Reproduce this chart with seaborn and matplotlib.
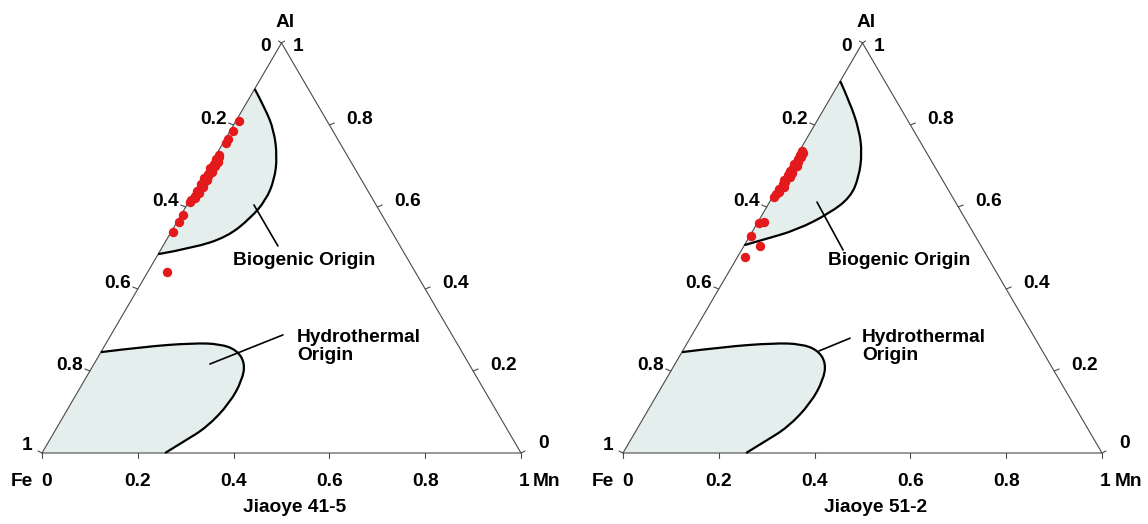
import numpy as np
import matplotlib
matplotlib.use("Agg")
import matplotlib.pyplot as plt
from matplotlib.path import Path
from matplotlib.patches import PathPatch
import matplotlib.transforms as mtrans
import seaborn as sns

# ---------------- data (ternary fractions: Mn, Al; Fe = remainder) ----------------
titles = ["Jiaoye 41-5", "Jiaoye 51-2"]
tick_values = [0.2, 0.4, 0.6, 0.8]
tick_labels = ["0.2", "0.4", "0.6", "0.8"]

# Jiaoye 41-5 samples
left_al = [0.810, 0.786, 0.765, 0.755, 0.727, 0.721, 0.716, 0.710, 0.705, 0.700,
           0.695, 0.690, 0.685, 0.680, 0.675, 0.670, 0.665, 0.660, 0.655, 0.650,
           0.645, 0.640, 0.634, 0.628, 0.622, 0.616, 0.612, 0.580, 0.564, 0.540, 0.441]
left_mn = [0.006, 0.006, 0.006, 0.007, 0.006, 0.010, 0.005, 0.012, 0.007, 0.011,
           0.004, 0.009, 0.013, 0.006, 0.010, 0.004, 0.012, 0.008, 0.005, 0.011,
           0.007, 0.004, 0.010, 0.006, 0.009, 0.004, 0.003, 0.004, 0.004, 0.004, 0.041]

# Jiaoye 51-2 samples
right_al = [0.737, 0.732, 0.727, 0.721, 0.716, 0.710, 0.705, 0.699, 0.694, 0.688,
            0.683, 0.677, 0.672, 0.666, 0.660, 0.655, 0.649, 0.643, 0.637, 0.631,
            0.625, 0.564, 0.560, 0.529, 0.505, 0.477]
right_mn = [0.006, 0.010, 0.005, 0.012, 0.007, 0.010, 0.004, 0.013, 0.008, 0.005,
            0.011, 0.007, 0.012, 0.004, 0.009, 0.006, 0.011, 0.005, 0.008, 0.004,
            0.003, 0.012, 0.003, 0.003, 0.034, 0.016]

# Biogenic field outlines
bio_left_mn = [0.000, 0.045, 0.090, 0.130, 0.152, 0.159, 0.149, 0.123, 0.065, 0.000]
bio_left_al = [0.888, 0.841, 0.788, 0.722, 0.666, 0.617, 0.573, 0.527, 0.500, 0.485]
bio_right_mn = [0.000, 0.047, 0.099, 0.133, 0.156, 0.163, 0.139, 0.091, 0.032, 0.000]
bio_right_al = [0.907, 0.854, 0.788, 0.732, 0.673, 0.624, 0.585, 0.544, 0.520, 0.507]

# Hydrothermal field outline
hyd_mn = [0.000, 0.082, 0.181, 0.239, 0.281, 0.314, 0.329, 0.331, 0.313, 0.281, 0.257]
hyd_al = [0.246, 0.259, 0.268, 0.266, 0.251, 0.2195, 0.178, 0.122, 0.063, 0.027, 0.000]

# label leader lines (Mn, Al endpoints)
bio_leader_left = ([0.140, 0.240], [0.605, 0.505])
hyd_leader_left = ([0.242, 0.359], [0.217, 0.288])
bio_leader_right = ([0.099, 0.212], [0.612, 0.495])
hyd_leader_right = ([0.285, 0.334], [0.249, 0.280])

# ---------------- style ----------------
sns.set_theme(style="white")
plt.rcParams["font.family"] = ["Liberation Sans", "DejaVu Sans"]
plt.rcParams["font.weight"] = "bold"
plt.rcParams["text.color"] = "black"
FS = 13.8
RED = "#e3191c"
FILL = "#e4efed"
EDGE = "#4a4a4a"

H = np.sqrt(3) / 2
PX = 479.0          # pixels per unit x
PY = 410.0 / H      # pixels per unit y


def cart(mn, al):
    mn = np.asarray(mn, float)
    al = np.asarray(al, float)
    return mn + al / 2, al * H


def smooth(xs, ys):
    pts = list(zip(xs, ys))
    n = len(pts)
    verts = [pts[0]]
    codes = [Path.MOVETO]
    for i in range(1, n - 1):
        c = pts[i]
        if i < n - 2:
            e = ((pts[i][0] + pts[i + 1][0]) / 2, (pts[i][1] + pts[i + 1][1]) / 2)
        else:
            e = pts[n - 1]
        verts += [c, e]
        codes += [Path.CURVE3, Path.CURVE3]
    return verts, codes


fig = plt.figure(figsize=(11.48, 5.24), dpi=100)

panels = [
    dict(pos=[0, 0, 0.5, 1], x0=42, title=titles[0], mn=left_mn, al=left_al,
         bmn=bio_left_mn, bal=bio_left_al, bl=bio_leader_left, hl=hyd_leader_left,
         bio_txt=(233 - 42, 260), hyd_txt=(297 - 42, 337), title_off=13),
    dict(pos=[0.5, 0, 0.5, 1], x0=49, title=titles[1], mn=right_mn, al=right_al,
         bmn=bio_right_mn, bal=bio_right_al, bl=bio_leader_right, hl=hyd_leader_right,
         bio_txt=(828 - 623, 260), hyd_txt=(862 - 623, 337), title_off=13),
]


def pix(dx, yp):
    """pixel offset from Fe corner (x) and absolute image y -> cartesian"""
    return dx / PX, (453 - yp) / PY


for p in panels:
    ax = fig.add_axes(p["pos"])
    ax.set_xlim(-p["x0"] / PX, (574 - p["x0"]) / PX)
    ax.set_ylim(-71 / PY, (524 - 71) / PY)
    ax.axis("off")

    # triangle frame
    tx, ty = cart([0, 1, 0, 0], [0, 0, 1, 0])
    ax.plot(tx, ty, color=EDGE, lw=0.8, zorder=3)

    # biogenic field
    bx, by = cart(p["bmn"], p["bal"])
    v, c = smooth(bx, by)
    ax.add_patch(PathPatch(Path(v + [v[0]], c + [Path.CLOSEPOLY]),
                           facecolor=FILL, edgecolor="none", zorder=1))
    ax.add_patch(PathPatch(Path(v, c), facecolor="none", edgecolor="black",
                           lw=1.6, zorder=4))

    # hydrothermal field
    hx, hy = cart(hyd_mn, hyd_al)
    v, c = smooth(hx, hy)
    ax.add_patch(PathPatch(Path(v + [(0, 0), v[0]], c + [Path.LINETO, Path.CLOSEPOLY]),
                           facecolor=FILL, edgecolor="none", zorder=1))
    ax.add_patch(PathPatch(Path(v, c), facecolor="none", edgecolor="black",
                           lw=1.6, zorder=4))

    # leader lines
    for mn, al in (p["bl"], p["hl"]):
        lx, ly = cart(mn, al)
        ax.plot(lx, ly, color="black", lw=1.2, zorder=4)

    # sample points
    sx, sy = cart(p["mn"], p["al"])
    sns.scatterplot(x=sx, y=sy, ax=ax, color=RED, s=46, linewidth=0, zorder=6,
                    legend=False)

    # ticks and tick labels
    tl = 5
    for v_, lab in zip(tick_values, tick_labels):
        # bottom (Mn)
        bxp, byp = cart(v_, 0)
        ax.plot([bxp, bxp], [byp, byp - tl / PY], color=EDGE, lw=0.8)
        ax.annotate(lab, (bxp, byp), xytext=(0, -28), textcoords="offset pixels",
                    ha="center", va="center", fontsize=FS, fontweight="bold")
        # left (Fe)
        lxp, lyp = cart(0, 1 - v_)
        ax.plot([lxp, lxp - tl / PX], [lyp, lyp + 2 / PY], color=EDGE, lw=0.8)
        ax.annotate(lab, (lxp, lyp), xytext=(-7, 6), textcoords="offset pixels",
                    ha="right", va="center", fontsize=FS, fontweight="bold")
        # right (Al)
        rxp, ryp = cart(1 - v_, v_)
        ax.plot([rxp, rxp + tl / PX], [ryp, ryp + 2 / PY], color=EDGE, lw=0.8)
        ax.annotate(lab, (rxp, ryp), xytext=(17, 6), textcoords="offset pixels",
                    ha="left", va="center", fontsize=FS, fontweight="bold")

    # corner ticks
    ax.plot([0, 0], [0, -tl / PY], color=EDGE, lw=0.8)
    ax.plot([0, -4 / PX], [0, 2 / PY], color=EDGE, lw=0.8)
    ax.plot([1, 1], [0, -tl / PY], color=EDGE, lw=0.8)
    ax.plot([1, 1 + 4 / PX], [0, 2 / PY], color=EDGE, lw=0.8)
    ax.plot([0.5, 0.5 - 3 / PX], [H, H + 2 / PY], color=EDGE, lw=0.8)
    ax.plot([0.5, 0.5 + 3 / PX], [H, H + 2 / PY], color=EDGE, lw=0.8)

    # corner labels
    kw = dict(textcoords="offset pixels", fontsize=FS, fontweight="bold", va="center")
    ax.annotate("0", (0, 0), xytext=(5, -28), ha="center", **kw)
    ax.annotate("Fe", (0, 0), xytext=(-20, -28), ha="center", **kw)
    ax.annotate("1", (0, 0), xytext=(-10, 8), ha="right", **kw)
    ax.annotate("1", (1, 0), xytext=(3, -28), ha="center", **kw)
    ax.annotate("Mn", (1, 0), xytext=(26, -28), ha="center", **kw)
    ax.annotate("0", (1, 0), xytext=(17, 10), ha="left", **kw)
    ax.annotate("0", (0.5, H), xytext=(-16, -3), ha="center", **kw)
    ax.annotate("1", (0.5, H), xytext=(17, -3), ha="center", **kw)
    ax.annotate("Al", (0.5, H), xytext=(4, 21), ha="center", **kw)

    # field labels
    bxt, byt = pix(*p["bio_txt"])
    ax.text(bxt, byt, "Biogenic Origin", ha="left", va="center", fontsize=FS,
            fontweight="bold")
    hxt, hyt = pix(*p["hyd_txt"])
    ax.text(hxt, hyt, "Hydrothermal\nOrigin", ha="left", va="top", fontsize=FS,
            fontweight="bold", linespacing=1.05,
            transform=ax.transData + mtrans.ScaledTranslation(0, 8 / 100, fig.dpi_scale_trans))

    # title
    ax.annotate(p["title"], (0.5, 0), xytext=(p["title_off"], -55),
                textcoords="offset pixels", ha="center", va="center",
                fontsize=FS, fontweight="bold")

fig.savefig("out.png", dpi=100)
